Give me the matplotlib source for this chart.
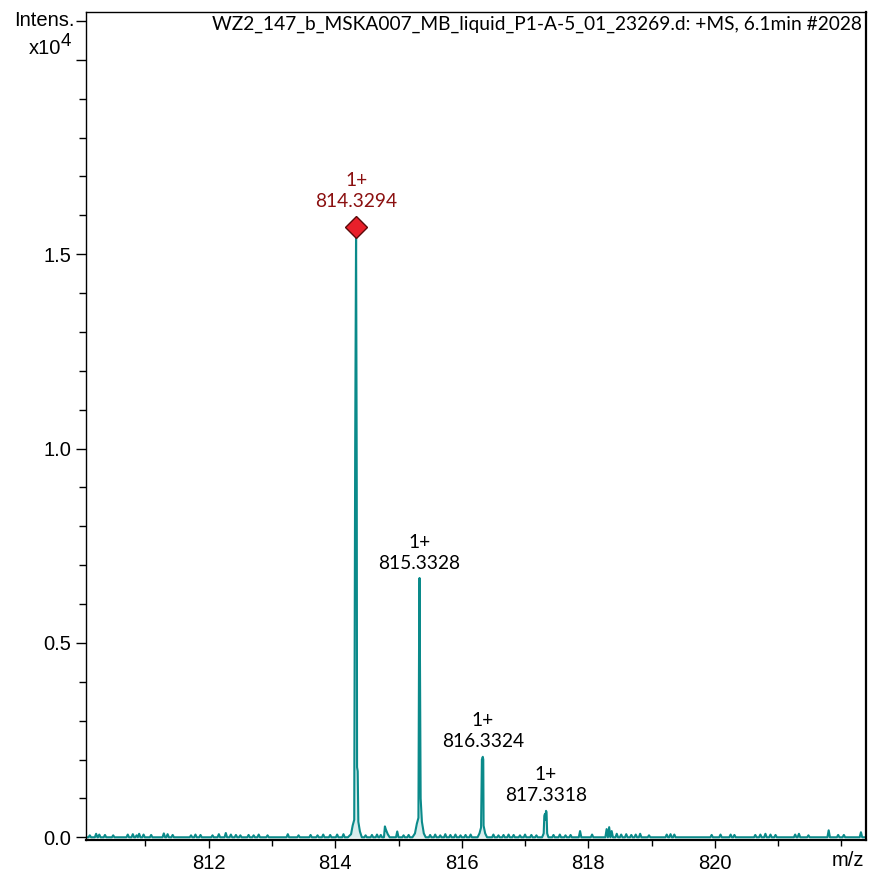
import numpy as np
import matplotlib
matplotlib.use("Agg")
import matplotlib.pyplot as plt
from matplotlib.ticker import MultipleLocator, FixedLocator

# intensities are in units of 1e4
peak_labels = ["814.3294", "815.3328", "816.3324", "817.3318"]
peak_mz = [814.3294, 815.3328, 816.3324, 817.3318]
peak_int = [1.57, 0.667, 0.207, 0.068]

# profile of the isotope peaks (m/z, intensity)
isotope_mz = [814.20, 814.25, 814.275, 814.30, 814.315, 814.3294, 814.340, 814.345, 814.355, 814.365, 814.39, 814.42,
              814.77, 814.785, 814.80, 814.83, 814.86,
              815.22, 815.26, 815.29, 815.315, 815.325, 815.3328, 815.342, 815.35, 815.37, 815.40, 815.43,
              816.25, 816.28, 816.305, 816.318, 816.3324, 816.340, 816.345, 816.37, 816.40,
              817.27, 817.295, 817.305, 817.315, 817.322, 817.3318, 817.34, 817.35, 817.37]
isotope_int = [0.0, 0.008, 0.03, 0.045, 1.0, 1.57, 0.9, 0.18, 0.17, 0.04, 0.015, 0.0,
               0.0, 0.028, 0.02, 0.008, 0.0,
               0.0, 0.01, 0.035, 0.05, 0.5, 0.667, 0.35, 0.1, 0.04, 0.01, 0.0,
               0.0, 0.01, 0.025, 0.2, 0.207, 0.2, 0.03, 0.01, 0.0,
               0.0, 0.01, 0.055, 0.06, 0.045, 0.068, 0.065, 0.01, 0.0]

# baseline noise spikes (m/z, intensity)
noise_mz = [810.12, 810.22, 810.27, 810.36, 810.49, 810.72, 810.80, 810.86, 810.90, 810.97,
            811.09, 811.29, 811.35, 811.43, 811.72, 811.79, 811.87, 812.06, 812.16, 812.27,
            812.35, 812.43, 812.50, 812.63, 812.71, 812.79, 812.93, 813.25, 813.42, 813.61,
            813.72, 813.81, 813.92, 814.03, 814.13, 814.48, 814.58, 814.66, 814.72, 814.98,
            815.08, 815.16, 815.50, 815.58, 815.66, 815.74, 815.82, 815.90, 815.98, 816.06,
            816.14, 816.50, 816.58, 816.66, 816.74, 816.82, 816.92, 817.00, 817.10, 817.18,
            817.45, 817.55, 817.64, 817.72, 817.87, 818.06, 818.29, 818.33, 818.37, 818.45,
            818.52, 818.60, 818.68, 818.75, 818.82, 818.96, 819.24, 819.30, 819.36, 819.95,
            820.09, 820.25, 820.31, 820.64, 820.72, 820.80, 820.88, 820.96, 821.27, 821.33,
            821.48, 821.80, 821.95, 822.04, 822.31]
noise_int = [0.005, 0.009, 0.007, 0.006, 0.005, 0.007, 0.008, 0.005, 0.009, 0.007,
             0.006, 0.010, 0.008, 0.006, 0.005, 0.007, 0.006, 0.005, 0.008, 0.011,
             0.007, 0.006, 0.005, 0.006, 0.005, 0.007, 0.005, 0.008, 0.005, 0.006,
             0.005, 0.007, 0.006, 0.007, 0.008, 0.005, 0.006, 0.007, 0.006, 0.015,
             0.005, 0.006, 0.006, 0.007, 0.005, 0.008, 0.006, 0.007, 0.005, 0.006,
             0.007, 0.007, 0.005, 0.006, 0.007, 0.006, 0.005, 0.007, 0.006, 0.005,
             0.006, 0.007, 0.005, 0.006, 0.016, 0.007, 0.021, 0.026, 0.016, 0.009,
             0.007, 0.008, 0.006, 0.007, 0.009, 0.005, 0.007, 0.008, 0.007, 0.006,
             0.007, 0.007, 0.006, 0.006, 0.007, 0.009, 0.007, 0.006, 0.007, 0.009,
             0.005, 0.018, 0.006, 0.006, 0.013]

title = "WZ2_147_b_MSKA007_MB_liquid_P1-A-5_01_23269.d: +MS, 6.1min #2028"

TEAL = "#0a8a8a"
FILL = "#d8eded"
DARKRED = "#8b1010"


def build_profile():
    # each noise spike is drawn as a thin triangle on the zero line
    xs = [810.0, 822.45]
    ys = [0.0, 0.0]
    for c, h in zip(noise_mz, noise_int):
        xs += [c - 0.02, c, c + 0.02]
        ys += [0.0, h, 0.0]
    xs += isotope_mz
    ys += isotope_int
    order = np.argsort(xs, kind="stable")
    return np.array(xs)[order], np.array(ys)[order]


def produceGraph():
    fig = plt.figure(figsize=(8.7, 8.74), dpi=100)
    ax = fig.add_axes([86 / 870, 34 / 874, 780 / 870, 828 / 874])

    x, y = build_profile()
    ax.fill_between(x, 0, y, color=FILL, lw=0, zorder=1)
    ax.plot(x, y, color=TEAL, lw=1.5, zorder=2)

    ax.set_xlim(810.06, 822.39)
    ax.set_ylim(-0.007, 2.123)

    # base peak marker
    ax.plot(peak_mz[0], peak_int[0], marker="D", ms=11, mfc="#e8202a", mec="#5a0a0a", mew=1.0, zorder=4)

    offsets = [12, 4, 5, 5]
    colors = [DARKRED, "black", "black", "black"]
    for mz, inten, lab, off, col in zip(peak_mz, peak_int, peak_labels, offsets, colors):
        ax.annotate("1+\n" + lab, xy=(mz, inten), xytext=(0, off), textcoords="offset points",
                    ha="center", va="bottom", fontsize=13.8, family="Lato", color=col,
                    linespacing=1.3, zorder=5)

    ax.text(0.995, 0.995, title, transform=ax.transAxes, ha="right", va="top",
            fontsize=13.8, family="Lato")

    ax.xaxis.set_major_locator(FixedLocator([812, 814, 816, 818, 820]))
    ax.xaxis.set_minor_locator(MultipleLocator(1))
    ax.yaxis.set_major_locator(FixedLocator([0.0, 0.5, 1.0, 1.5, 2.0, 2.1]))
    ax.yaxis.set_minor_locator(MultipleLocator(0.1))
    ax.set_yticklabels(["0.0", "0.5", "1.0", "1.5", "", ""])

    ax.tick_params(which="major", direction="out", length=7, width=1.0, labelsize=14.5, color="black")
    ax.tick_params(which="minor", direction="out", length=5, width=1.0)
    ax.tick_params(axis="x", which="major", length=6, pad=4)
    ax.tick_params(axis="x", which="minor", length=4)
    for lab in ax.get_xticklabels() + ax.get_yticklabels():
        lab.set_family("Liberation Sans")

    for side in ["left", "top"]:
        ax.spines[side].set_linewidth(1.0)
    for side in ["bottom", "right"]:
        ax.spines[side].set_linewidth(1.6)

    fig.text(75 / 870, 1 - 21 / 874, "Intens.", ha="right", va="center", fontsize=14.5, family="Liberation Sans")
    fig.text(61 / 870, 1 - 48 / 874, "x10", ha="right", va="center", fontsize=14.5, family="Liberation Sans")
    fig.text(61 / 870, 1 - 42 / 874, "4", ha="left", va="center", fontsize=13.5, family="Liberation Sans")
    fig.text(848 / 870, 1 - 861 / 874, "m/z", ha="center", va="center", fontsize=14.5, family="Liberation Sans")

    fig.savefig("out.png", dpi=100)


def main():
    produceGraph()


if __name__ == "__main__":
    main()
